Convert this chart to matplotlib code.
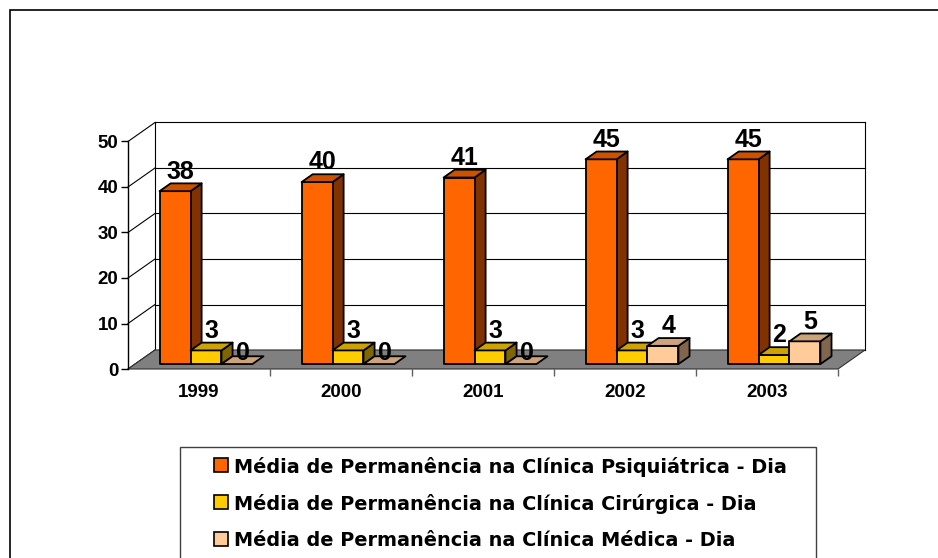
import numpy as np
import matplotlib
matplotlib.use('Agg')
import matplotlib.pyplot as plt
from matplotlib.patches import Polygon, Rectangle
from matplotlib.colors import to_rgb

plt.rcParams['font.family'] = ['Liberation Sans', 'DejaVu Sans']
plt.rcParams['font.weight'] = 'bold'

# dados
anos = ['1999', '2000', '2001', '2002', '2003']
psiquiatrica = [38, 40, 41, 45, 45]
cirurgica = [3, 3, 3, 3, 2]
medica = [0, 0, 0, 4, 5]
series_labels = ['Média de Permanência na Clínica Psiquiátrica - Dia',
                 'Média de Permanência na Clínica Cirúrgica - Dia',
                 'Média de Permanência na Clínica Médica - Dia']
series_colors = ['#FF6600', '#FFCC00', '#FFCC99']
yticks = [0, 10, 20, 30, 40, 50]

W, H = 938, 558
fig = plt.figure(figsize=(W / 100, H / 100), dpi=100)

def fx(px):
    return px / W

def fy(py):
    return 1 - py / H

# eixo no plano frontal
x0, x1, y0, y1 = 128, 838, 369, 141.5
ax = fig.add_axes([fx(x0), fy(y0), fx(x1 - x0), (y0 - y1) / H])
ax.set_xlim(0, len(anos))
ax.set_ylim(0, 50)

# profundidade (unidades de dados)
DX = 27 / ((x1 - x0) / len(anos))
DY = 19 / ((y0 - y1) / 50)
ymax = 50
n = len(anos)

for s in ['top', 'right', 'bottom']:
    ax.spines[s].set_visible(False)
ax.spines['left'].set_linewidth(1.0)
ax.set_yticks(yticks)
ax.set_yticklabels([str(v) for v in yticks], fontsize=13.5, fontweight='bold')
ax.tick_params(axis='y', length=5, width=1, pad=2)
ax.set_xticks(range(1, n + 1))
ax.set_xticklabels([])
ax.tick_params(axis='x', which='major', length=5, width=1, color='#606060')
ax.set_xticks([i + 0.5 for i in range(n)], minor=True)
ax.set_xticklabels(anos, minor=True, fontsize=13.5, fontweight='bold')
ax.tick_params(axis='x', which='minor', length=0, pad=10.5)
ax.patch.set_visible(False)

# paredes e grade
for v in yticks:
    ax.plot([0, DX], [v, v + DY], color='black', lw=0.8, clip_on=False, zorder=1)
    ax.plot([DX, n + DX], [v + DY, v + DY], color='black', lw=0.8, clip_on=False, zorder=1)
ax.plot([DX, DX], [DY, ymax + DY], color='black', lw=0.8, clip_on=False, zorder=1)
ax.plot([n + DX, n + DX], [DY, ymax + DY], color='black', lw=0.8, clip_on=False, zorder=1)

# piso
floor = Polygon([(0, 0), (n, 0), (n + DX, DY), (DX, DY)], closed=True,
                facecolor='#808080', edgecolor='#303030', lw=0.8, clip_on=False, zorder=2)
ax.add_patch(floor)

# barras 3D
bw = 0.218
f0, f1 = 0.26, 0.67

def shade(c, k):
    r, g, b = to_rgb(c)
    return (r * k, g * k, b * k)

z = 3
for i in range(n):
    for k, (vals, col) in enumerate(zip([psiquiatrica, cirurgica, medica], series_colors)):
        v = vals[i]
        xa = i + 0.5 + (k - 1.5) * bw
        xb = xa + bw
        fa_x, fa_y = f0 * DX, f0 * DY
        fb_x, fb_y = f1 * DX, f1 * DY
        kw = dict(closed=True, edgecolor='black', lw=1.3, clip_on=False, joinstyle='round')
        if v > 0:
            side = Polygon([(xb + fa_x, fa_y), (xb + fb_x, fb_y), (xb + fb_x, v + fb_y), (xb + fa_x, v + fa_y)],
                           facecolor=shade(col, 0.5), zorder=z, **kw)
            front = Polygon([(xa + fa_x, fa_y), (xb + fa_x, fa_y), (xb + fa_x, v + fa_y), (xa + fa_x, v + fa_y)],
                            facecolor=col, zorder=z, **kw)
            ax.add_patch(side)
            ax.add_patch(front)
        top = Polygon([(xa + fa_x, v + fa_y), (xb + fa_x, v + fa_y), (xb + fb_x, v + fb_y), (xa + fb_x, v + fb_y)],
                      facecolor=shade(col, 0.8), zorder=z, **kw)
        ax.add_patch(top)
        z += 1
        off = 3.5 if v > 0 else -3
        ax.annotate(str(v), xy=((xa + xb) / 2 + (f0 + f1) / 2 * DX, v + f1 * DY),
                    xytext=(0, off), textcoords='offset points', ha='center', va='baseline',
                    fontsize=18, fontweight='bold', zorder=100, annotation_clip=False)

# moldura externa
fig.add_artist(Rectangle((fx(9.5), -0.1), 1.2, fy(9.5) + 0.1, transform=fig.transFigure,
                         facecolor='none', edgecolor='black', lw=1.2))

# legenda
fig.add_artist(Rectangle((fx(180), -0.1), fx(816 - 180), fy(447) + 0.1, transform=fig.transFigure,
                         facecolor='white', edgecolor='#404040', lw=1.0))
for j, (lab, col) in enumerate(zip(series_labels, series_colors)):
    yc = 465 + 37 * j
    fig.add_artist(Rectangle((fx(214), fy(yc + 7)), fx(14), 14 / H, transform=fig.transFigure,
                             facecolor=col, edgecolor='black', lw=1.2))
    fig.text(fx(234), fy(yc), lab, ha='left', va='center_baseline',
             fontsize=13.9, fontweight='bold', family='DejaVu Sans')

fig.savefig('out.png', dpi=100)
